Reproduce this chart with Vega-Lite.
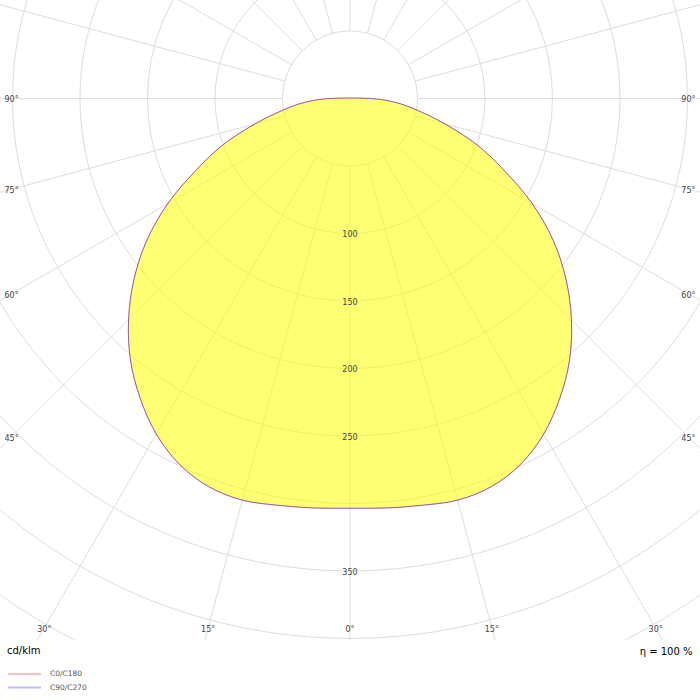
{
  "$schema": "https://vega.github.io/schema/vega-lite/v6.json",
  "width": 700,
  "height": 640,
  "autosize": "none",
  "padding": {"left": 0, "top": 0, "right": 0, "bottom": 60},
  "background": "white",
  "view": {"stroke": null},
  "datasets": {
    "intensity": [
      {"a": -90, "C0/C180": 15, "C90/C270": 15},
      {"a": -85, "C0/C180": 34, "C90/C270": 34},
      {"a": -80, "C0/C180": 51, "C90/C270": 51},
      {"a": -75, "C0/C180": 73, "C90/C270": 73},
      {"a": -70, "C0/C180": 100, "C90/C270": 100},
      {"a": -65, "C0/C180": 126, "C90/C270": 126},
      {"a": -60, "C0/C180": 156, "C90/C270": 156},
      {"a": -55, "C0/C180": 184, "C90/C270": 184},
      {"a": -50, "C0/C180": 209, "C90/C270": 209},
      {"a": -45, "C0/C180": 232, "C90/C270": 232},
      {"a": -40, "C0/C180": 253, "C90/C270": 253},
      {"a": -35, "C0/C180": 271, "C90/C270": 271},
      {"a": -30, "C0/C180": 287, "C90/C270": 287},
      {"a": -25, "C0/C180": 299, "C90/C270": 299},
      {"a": -20, "C0/C180": 306, "C90/C270": 306},
      {"a": -15, "C0/C180": 308, "C90/C270": 308},
      {"a": -10, "C0/C180": 306, "C90/C270": 306},
      {"a": -5, "C0/C180": 304.5, "C90/C270": 304.5},
      {"a": 0, "C0/C180": 303.5, "C90/C270": 303.5},
      {"a": 5, "C0/C180": 304.5, "C90/C270": 304.5},
      {"a": 10, "C0/C180": 306, "C90/C270": 306},
      {"a": 15, "C0/C180": 308, "C90/C270": 308},
      {"a": 20, "C0/C180": 306, "C90/C270": 306},
      {"a": 25, "C0/C180": 299, "C90/C270": 299},
      {"a": 30, "C0/C180": 287, "C90/C270": 287},
      {"a": 35, "C0/C180": 271, "C90/C270": 271},
      {"a": 40, "C0/C180": 253, "C90/C270": 253},
      {"a": 45, "C0/C180": 232, "C90/C270": 232},
      {"a": 50, "C0/C180": 209, "C90/C270": 209},
      {"a": 55, "C0/C180": 184, "C90/C270": 184},
      {"a": 60, "C0/C180": 156, "C90/C270": 156},
      {"a": 65, "C0/C180": 126, "C90/C270": 126},
      {"a": 70, "C0/C180": 100, "C90/C270": 100},
      {"a": 75, "C0/C180": 73, "C90/C270": 73},
      {"a": 80, "C0/C180": 51, "C90/C270": 51},
      {"a": 85, "C0/C180": 34, "C90/C270": 34},
      {"a": 90, "C0/C180": 15, "C90/C270": 15}
    ],
    "rings": [
      {"r": 50}, {"r": 100}, {"r": 150}, {"r": 200}, {"r": 250},
      {"r": 300}, {"r": 350}, {"r": 400}, {"r": 450}, {"r": 500}
    ],
    "spokes": [
      {"a": -165}, {"a": -150}, {"a": -135}, {"a": -120}, {"a": -105}, {"a": -90},
      {"a": -75}, {"a": -60}, {"a": -45}, {"a": -30}, {"a": -15}, {"a": 0},
      {"a": 15}, {"a": 30}, {"a": 45}, {"a": 60}, {"a": 75}, {"a": 90},
      {"a": 105}, {"a": 120}, {"a": 135}, {"a": 150}, {"a": 165}, {"a": 180}
    ],
    "angleLabels": [
      {"a": -90, "t": "90°"}, {"a": -75, "t": "75°"}, {"a": -60, "t": "60°"},
      {"a": -45, "t": "45°"}, {"a": -30, "t": "30°"}, {"a": -15, "t": "15°"},
      {"a": 0, "t": "0°"}, {"a": 15, "t": "15°"}, {"a": 30, "t": "30°"},
      {"a": 45, "t": "45°"}, {"a": 60, "t": "60°"}, {"a": 75, "t": "75°"},
      {"a": 90, "t": "90°"}
    ],
    "ringLabels": [
      {"r": 100}, {"r": 150}, {"r": 200}, {"r": 250}, {"r": 350}
    ]
  },
  "encoding": {
    "x": {
      "field": "x",
      "type": "quantitative",
      "scale": {"domain": [-259.26, 259.26], "nice": false, "zero": false},
      "axis": {
        "title": "η = 100 %",
        "labels": false,
        "ticks": false,
        "domain": false,
        "grid": false,
        "titleX": 692,
        "titleAlign": "right",
        "titlePadding": 6,
        "titleFont": "DejaVu Sans",
        "titleFontSize": 10,
        "titleFontWeight": "normal",
        "titleColor": "#000000"
      }
    },
    "y": {
      "field": "y",
      "type": "quantitative",
      "scale": {"domain": [-401.11, 72.96], "nice": false, "zero": false},
      "axis": null
    }
  },
  "layer": [
    {
      "data": {"name": "rings"},
      "transform": [
        {"calculate": "0", "as": "x"},
        {"calculate": "0", "as": "y"}
      ],
      "mark": {"type": "point", "shape": "circle", "filled": false, "stroke": "#dddddd", "strokeWidth": 1, "opacity": 1, "clip": true},
      "encoding": {
        "size": {
          "field": "r",
          "type": "quantitative",
          "scale": {"type": "pow", "exponent": 2, "domain": [0, 500], "range": [0, 1822500]},
          "legend": null
        }
      }
    },
    {
      "data": {"name": "spokes"},
      "transform": [
        {"calculate": "50 * sin(datum.a * PI / 180)", "as": "x"},
        {"calculate": "-50 * cos(datum.a * PI / 180)", "as": "y"},
        {"calculate": "700 * sin(datum.a * PI / 180)", "as": "x2"},
        {"calculate": "-700 * cos(datum.a * PI / 180)", "as": "y2"}
      ],
      "mark": {"type": "rule", "stroke": "#dddddd", "strokeWidth": 1, "clip": true},
      "encoding": {
        "x2": {"field": "x2"},
        "y2": {"field": "y2"}
      }
    },
    {
      "data": {"name": "intensity"},
      "transform": [
        {"calculate": "datum['C0/C180'] * sin(datum.a * PI / 180)", "as": "x"},
        {"calculate": "-datum['C0/C180'] * cos(datum.a * PI / 180)", "as": "y"}
      ],
      "mark": {"type": "line", "interpolate": "cardinal-closed", "fill": "#ffff00", "fillOpacity": 0.55, "strokeWidth": 0, "clip": true},
      "encoding": {
        "order": {"field": "a", "type": "quantitative"}
      }
    },
    {
      "data": {"name": "intensity"},
      "transform": [
        {"fold": ["C0/C180", "C90/C270"], "as": ["plane", "i"]},
        {"calculate": "datum.i * sin(datum.a * PI / 180)", "as": "x"},
        {"calculate": "-datum.i * cos(datum.a * PI / 180)", "as": "y"}
      ],
      "mark": {"type": "line", "interpolate": "cardinal-closed", "strokeWidth": 1, "strokeOpacity": 0.4, "clip": true},
      "encoding": {
        "order": {"field": "a", "type": "quantitative"},
        "color": {
          "field": "plane",
          "type": "nominal",
          "scale": {"domain": ["C0/C180", "C90/C270"], "range": ["#ff0000", "#0000ff"]},
          "legend": {
            "orient": "none",
            "legendX": 7,
            "legendY": 646,
            "title": "cd/klm",
            "titleFont": "DejaVu Sans",
            "titleFontSize": 10,
            "titleFontWeight": "normal",
            "titleColor": "#000000",
            "titlePadding": 11.5,
            "symbolType": "stroke",
            "symbolSize": 1089,
            "symbolStrokeWidth": 2,
            "symbolOpacity": 0.25,
            "clipHeight": 13,
            "labelFont": "DejaVu Sans",
            "labelFontSize": 7.5,
            "labelColor": "#555555",
            "labelOffset": 8,
            "rowPadding": 0.5
          }
        }
      }
    },
    {
      "data": {"name": "angleLabels"},
      "transform": [
        {"calculate": "sin(datum.a * PI / 180)", "as": "s"},
        {"calculate": "cos(datum.a * PI / 180)", "as": "c"},
        {"calculate": "min(250.7 / max(abs(datum.s), 1e-9), 392.2 / max(datum.c, 1e-9))", "as": "d"},
        {"calculate": "datum.d * datum.s", "as": "x"},
        {"calculate": "-datum.d * datum.c", "as": "y"}
      ],
      "mark": {"type": "text", "font": "DejaVu Sans", "fontSize": 8, "color": "#444444", "align": "center", "baseline": "middle", "dy": 2},
      "encoding": {
        "text": {"field": "t"}
      }
    },
    {
      "data": {"name": "ringLabels"},
      "transform": [
        {"calculate": "0", "as": "x"},
        {"calculate": "-datum.r", "as": "y"}
      ],
      "mark": {"type": "text", "font": "DejaVu Sans", "fontSize": 8, "color": "#444444", "align": "center", "baseline": "middle", "dy": 2},
      "encoding": {
        "text": {"field": "r", "type": "quantitative"}
      }
    }
  ]
}
